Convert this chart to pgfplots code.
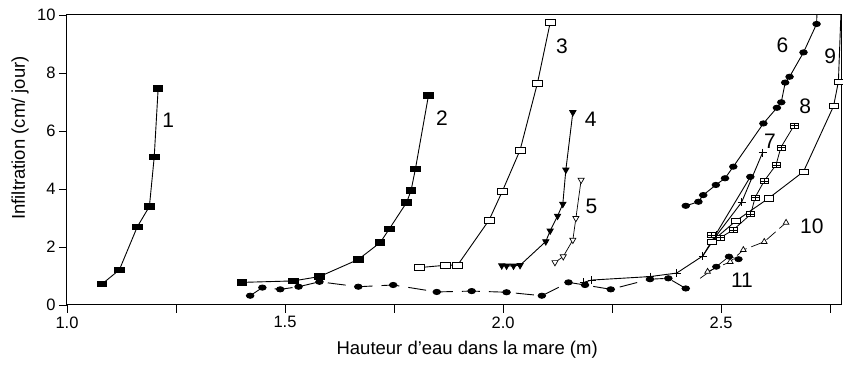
\documentclass[border=0pt]{standalone}
\usepackage{fontspec}
\setmainfont{Liberation Sans}
\usepackage{pgfplots}
\pgfplotsset{compat=1.18}

\pgfdeclareplotmark{rect}{%
  \pgfpathrectangle{\pgfpoint{-1.7\pgfplotmarksize}{-\pgfplotmarksize}}{\pgfpoint{3.4\pgfplotmarksize}{2\pgfplotmarksize}}%
  \pgfusepathqfillstroke}
\pgfdeclareplotmark{recthv}{%
  \pgfpathrectangle{\pgfpoint{-1.6\pgfplotmarksize}{-\pgfplotmarksize}}{\pgfpoint{3.2\pgfplotmarksize}{2\pgfplotmarksize}}%
  \pgfusepathqfillstroke
  \pgfpathmoveto{\pgfpoint{-1.6\pgfplotmarksize}{0pt}}\pgfpathlineto{\pgfpoint{1.6\pgfplotmarksize}{0pt}}%
  \pgfpathmoveto{\pgfpoint{0pt}{-\pgfplotmarksize}}\pgfpathlineto{\pgfpoint{0pt}{\pgfplotmarksize}}%
  \pgfusepathqstroke}

\begin{document}
\begin{tikzpicture}
\begin{axis}[
  scale only axis, width=774pt, height=290pt,
  xmin=1, xmax=2.775, ymin=0, ymax=10,
  xtick={1,1.5,2,2.5}, xticklabels={1.0,1.5,2.0,2.5},
  minor xtick={1.25,1.75,2.25,2.75},
  ytick={0,2,4,6,8,10},
  /pgf/number format/assume math mode=true,
  tick align=outside, xtick pos=bottom, ytick pos=left,
  major tick length=8pt, minor tick length=8pt,
  tick style={black, line width=0.8pt},
  axis line style={line width=1pt},
  font=\fontsize{16.5}{18}\selectfont,
  xlabel={Hauteur d'eau dans la mare (m)},
  ylabel={Infiltration (cm/ jour)},
  x label style={font=\fontsize{18.5}{20}\selectfont, at={(axis description cs:0.517,-0.155)}, anchor=center},
  y label style={font=\fontsize{18.5}{20}\selectfont, at={(axis description cs:-0.0607,0.576)}, anchor=center},
  every axis plot/.append style={line width=0.9pt, black},
  clip=true,
]
% 1
\addplot[mark=rect, mark size=2.8pt, mark options={fill=black, solid}] coordinates {
(1.080,0.72)(1.120,1.21)(1.161,2.69)(1.189,3.40)(1.200,5.10)(1.209,7.46)};
% 2
\addplot[mark=rect, mark size=2.8pt, mark options={fill=black, solid}] coordinates {
(1.401,0.78)(1.519,0.83)(1.579,0.98)(1.668,1.57)(1.718,2.15)(1.739,2.62)(1.779,3.54)(1.789,3.95)(1.799,4.69)(1.829,7.23)};
% 3
\addplot[mark=rect, mark size=3pt, mark options={fill=white, solid, line width=0.7pt}] coordinates {
(1.808,1.29)(1.868,1.37)(1.896,1.38)(1.968,2.93)(1.998,3.91)(2.039,5.34)(2.079,7.66)(2.108,9.73)};
% 4
\addplot[mark=triangle*, mark size=3.5pt, mark options={fill=black, solid, rotate=180}] coordinates {
(1.997,1.36)(2.008,1.35)(2.024,1.35)(2.039,1.37)(2.098,2.19)(2.108,2.56)(2.125,3.07)(2.137,3.48)(2.144,4.66)(2.160,6.64)};
% 5
\addplot[line width=0.7pt, mark=triangle*, mark size=3.5pt, mark options={fill=white, solid, rotate=180}] coordinates {
(2.119,1.47)(2.138,1.67)(2.160,2.24)(2.167,2.99)(2.179,4.31)};
% bottom dashed series
\addplot[dash pattern=on 18pt off 9pt, mark=*, mark size=2.6pt, mark options={fill=black, solid, xscale=1.45}] coordinates {
(1.420,0.32)(1.448,0.60)(1.489,0.54)(1.531,0.63)(1.579,0.80)(1.668,0.63)(1.748,0.69)(1.848,0.45)(1.928,0.48)(2.008,0.44)(2.089,0.32)(2.150,0.78)(2.188,0.69)(2.247,0.54)(2.337,0.89)(2.379,0.92)(2.419,0.57)};
% 6
\addplot[mark=*, mark size=2.6pt, mark options={fill=black, solid, xscale=1.45}] coordinates {
(2.419,3.42)(2.448,3.56)(2.459,3.79)(2.488,4.14)(2.509,4.37)(2.528,4.77)(2.597,6.26)(2.628,6.80)(2.638,6.99)(2.647,7.67)(2.657,7.87)(2.689,8.71)(2.719,9.69)(2.722,11)};
% 7
\addplot[mark=+, mark size=4pt, mark options={solid, line width=0.7pt}] coordinates {
(2.185,0.78)(2.203,0.86)(2.337,0.98)(2.398,1.10)(2.458,1.69)(2.490,2.41)(2.547,3.54)(2.595,5.25)};
% circle branch
\addplot[mark=*, mark size=2.6pt, mark indices={2}, mark options={fill=black, solid, xscale=1.45}] coordinates {
(2.458,1.69)(2.567,4.42)};
% 8
\addplot[line width=0.8pt, mark=recthv, mark size=2.5pt, mark options={fill=white, solid, line width=0.6pt}] coordinates {
(2.478,2.41)(2.499,2.33)(2.528,2.59)(2.568,3.13)(2.578,3.71)(2.599,4.28)(2.626,4.83)(2.637,5.43)(2.667,6.18)};
% 9
\addplot[mark=rect, mark size=2.6pt, mark options={fill=white, solid, line width=0.6pt}] coordinates {
(2.478,2.18)(2.534,2.90)(2.609,3.68)(2.689,4.60)(2.758,6.86)(2.769,7.70)(2.776,10.5)};
% 10
\addplot[line width=0.7pt, dash pattern=on 12pt off 5pt, mark=triangle*, mark size=3.3pt, mark options={fill=white, solid}] coordinates {
(2.469,1.15)(2.521,1.49)(2.551,1.90)(2.599,2.18)(2.649,2.84)};
% 11
\addplot[line width=0.7pt, mark=*, mark size=2.6pt, mark indices={2,3,4}, mark options={fill=black, solid, xscale=1.45}] coordinates {
(2.452,0.92)(2.489,1.32)(2.518,1.67)(2.540,1.58)};

\begin{scope}[font=\fontsize{21}{24}\selectfont]
\node at (axis cs:1.232,6.38) {1};
\node at (axis cs:1.860,6.43) {2};
\node at (axis cs:2.135,8.91) {3};
\node at (axis cs:2.201,6.40) {4};
\node at (axis cs:2.203,3.39) {5};
\node at (axis cs:2.641,8.97) {6};
\node at (axis cs:2.612,5.63) {7};
\node at (axis cs:2.693,6.84) {8};
\node at (axis cs:2.750,8.56) {9};
\node at (axis cs:2.708,2.70) {10};
\node at (axis cs:2.548,0.86) {11};
\end{scope}
\end{axis}
\pgfresetboundingbox
\path (current axis.south west) ++(-67pt,-61pt) coordinate (bl);
\path (current axis.north east) ++(2pt,15pt) coordinate (tr);
\useasboundingbox (bl) rectangle (tr);
\end{tikzpicture}
\end{document}
